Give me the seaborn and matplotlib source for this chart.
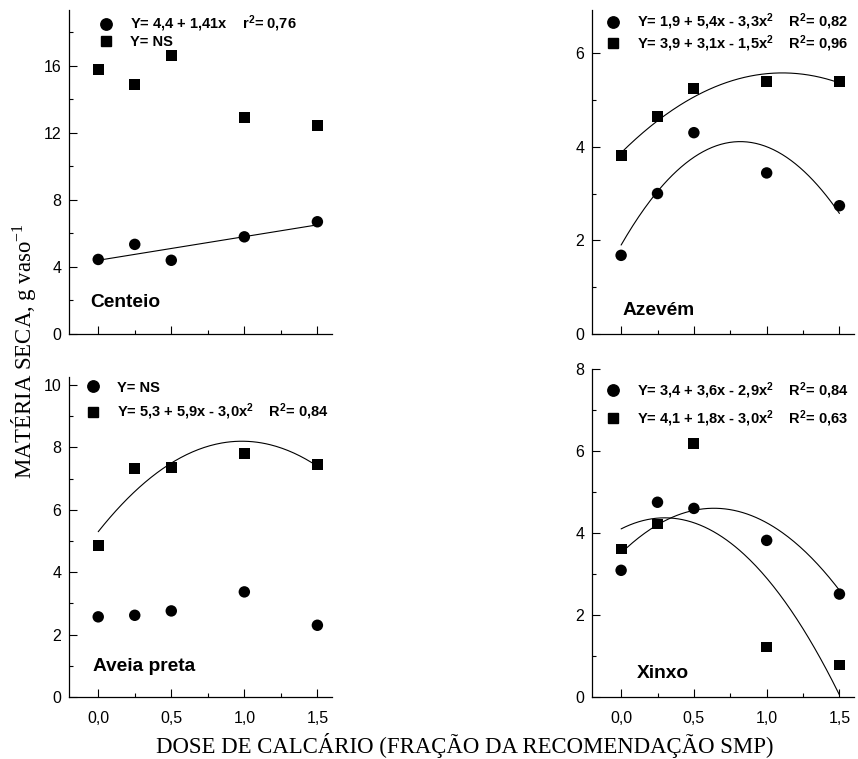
import numpy as np
import pandas as pd
import matplotlib
matplotlib.use("Agg")
import matplotlib.pyplot as plt
from matplotlib.lines import Line2D
import seaborn as sns

# doses (fraction of SMP recommendation)
dose = [0.0, 0.25, 0.5, 1.0, 1.5]

# dry matter, g/vaso  (circle series, square series)
centeio_circ = [4.45, 5.35, 4.4, 5.8, 6.7]
centeio_sq = [15.8, 14.9, 16.6, 12.9, 12.45]
azevem_circ = [1.68, 3.0, 4.3, 3.44, 2.74]
azevem_sq = [3.81, 4.64, 5.25, 5.39, 5.39]
aveia_circ = [2.57, 2.62, 2.76, 3.37, 2.3]
aveia_sq = [4.87, 7.32, 7.36, 7.81, 7.45]
xinxo_circ = [3.09, 4.75, 4.6, 3.82, 2.51]
xinxo_sq = [3.61, 4.22, 6.19, 1.22, 0.78]

# fitted curves (a, b, c) -> a + b x + c x^2 ; None = NS
# (labels are rounded)
centeio_fit = [[4.4, 1.41, 0.0], None]
azevem_fit = [[1.9, 5.4, -3.3], [3.87, 3.08, -1.39]]
aveia_fit = [None, [5.3, 5.9, -3.0]]
xinxo_fit = [[3.51, 3.43, -2.69], [4.1, 1.8, -3.0]]

centeio_leg = ["Y= 4,4 + 1,41x    r$^2$= 0,76", "Y= NS"]
azevem_leg = ["Y= 1,9 + 5,4x - 3,3x$^2$    R$^2$= 0,82",
              "Y= 3,9 + 3,1x - 1,5x$^2$    R$^2$= 0,96"]
aveia_leg = ["Y= NS", "Y= 5,3 + 5,9x - 3,0x$^2$    R$^2$= 0,84"]
xinxo_leg = ["Y= 3,4 + 3,6x - 2,9x$^2$    R$^2$= 0,84",
             "Y= 4,1 + 1,8x - 3,0x$^2$    R$^2$= 0,63"]

sns.set_style("ticks", {"text.color": "black", "axes.labelcolor": "black",
                        "xtick.color": "black", "ytick.color": "black",
                        "axes.edgecolor": "black"})
plt.rcParams['font.family'] = ['Liberation Sans', 'DejaVu Sans']
plt.rcParams['mathtext.default'] = 'regular'
plt.rcParams['axes.linewidth'] = 0.9

W, H = 858, 759
fig = plt.figure(figsize=(W / 100, H / 100), dpi=100)


def px_axes(x0, y0, x1, y1):
    return fig.add_axes([x0 / W, 1 - y1 / H, (x1 - x0) / W, (y1 - y0) / H])


panels = [
    dict(box=(69, 10, 332, 334), circ=centeio_circ, sq=centeio_sq, fit=centeio_fit,
         leg=centeio_leg, name="Centeio", ylim=19.34, yt=[0, 4, 8, 12, 16],
         ym=[2, 6, 10, 14, 18], bottom=False, anchor=(0.113, 0.989),
         npos=(0.08, 0.096), sp=0.08),
    dict(box=(592, 10, 854, 334), circ=azevem_circ, sq=azevem_sq, fit=azevem_fit,
         leg=azevem_leg, name="Azevém", ylim=6.92, yt=[0, 2, 4, 6],
         ym=[1, 3, 5], bottom=False, anchor=(0.052, 0.995),
         npos=(0.118, 0.074), sp=0.08),
    dict(box=(69, 377, 332, 697), circ=aveia_circ, sq=aveia_sq, fit=aveia_fit,
         leg=aveia_leg, name="Aveia preta", ylim=10.26, yt=[0, 2, 4, 6, 8, 10],
         ym=[1, 3, 5, 7, 9], bottom=True, anchor=(0.0635, 0.989),
         npos=(0.091, 0.094), sp=0.48),
    dict(box=(592, 369, 854, 697), circ=xinxo_circ, sq=xinxo_sq, fit=xinxo_fit,
         leg=xinxo_leg, name="Xinxo", ylim=8.0, yt=[0, 2, 4, 6, 8],
         ym=[1, 3, 5, 7], bottom=True, anchor=(0.052, 0.965),
         npos=(0.172, 0.073), sp=0.48),
]

xs = np.linspace(0, 1.5, 150)
for p in panels:
    ax = px_axes(*p['box'])
    df = pd.DataFrame({'dose': dose * 2,
                       'mseca': p['circ'] + p['sq'],
                       'serie': ['c'] * len(dose) + ['s'] * len(dose)})
    sns.scatterplot(data=df, x='dose', y='mseca', style='serie', size='serie',
                    markers={'c': 'o', 's': 's'}, sizes={'c': 68, 's': 62},
                    color='black', edgecolor='black', linewidth=0,
                    legend=False, ax=ax, zorder=3)
    for coef in p['fit']:
        if coef is None:
            continue
        ys = coef[0] + coef[1] * xs + coef[2] * xs ** 2
        sns.lineplot(x=xs, y=ys, color='black', linewidth=0.8, ax=ax)

    ax.set_xlim(-0.2, 1.6)
    ax.set_ylim(0, p['ylim'])
    ax.set_xticks([0, 0.5, 1.0, 1.5])
    ax.set_xticks([0.25, 0.75, 1.25], minor=True)
    ax.set_yticks(p['yt'])
    ax.set_yticks(p['ym'], minor=True)
    if p['bottom']:
        ax.set_xticklabels(["0,0", "0,5", "1,0", "1,5"])
    else:
        ax.tick_params(labelbottom=False)
    ax.tick_params(which='major', direction='in', length=6, width=0.8,
                   labelsize=11.5, color='black')
    ax.tick_params(which='minor', direction='in', length=3, width=0.8, color='black')
    ax.tick_params(axis='y', which='major', pad=5.5)
    ax.tick_params(axis='x', which='major', pad=10)
    ax.set_xlabel("")
    ax.set_ylabel("")
    sns.despine(ax=ax)

    handles = [Line2D([], [], marker='o', linestyle='', color='black', markersize=8.2),
               Line2D([], [], marker='s', linestyle='', color='black', markersize=7.6)]
    ax.legend(handles, p['leg'], loc='upper left', bbox_to_anchor=p['anchor'],
              frameon=False, borderpad=0, borderaxespad=0, handlelength=1.0,
              handletextpad=1.14, labelspacing=p['sp'],
              prop={'family': 'Liberation Sans', 'weight': 'bold', 'size': 10.5})
    ax.text(p['npos'][0], p['npos'][1], p['name'], transform=ax.transAxes,
            fontsize=13.8, fontweight='bold', va='center', ha='left')

fig.text(465 / W, 1 - 746 / H, "DOSE DE CALCÁRIO (FRAÇÃO DA RECOMENDAÇÃO SMP)",
         ha='center', va='center', fontsize=16.4, family='Liberation Serif')
fig.text(24 / W, 1 - 351 / H, "MATÉRIA SECA, g vaso$^{-1}$", rotation=90,
         ha='center', va='center', fontsize=16.4, family='Liberation Serif')

fig.savefig("out.png", dpi=100)
